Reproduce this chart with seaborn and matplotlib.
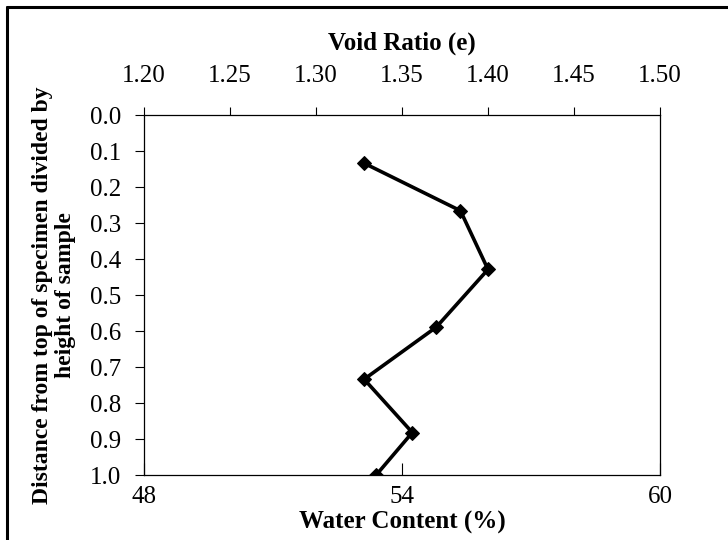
import matplotlib
matplotlib.use("Agg")
import matplotlib.pyplot as plt
from matplotlib.lines import Line2D
import seaborn as sns
import pandas as pd

# Data
void_ratio = [1.328, 1.384, 1.400, 1.370, 1.328, 1.356, 1.335]
depth = [0.134, 0.266, 0.429, 0.589, 0.734, 0.882, 1.000]
top_ticks = [1.20, 1.25, 1.30, 1.35, 1.40, 1.45, 1.50]
y_ticks = [0.0, 0.1, 0.2, 0.3, 0.4, 0.5, 0.6, 0.7, 0.8, 0.9, 1.0]
bottom_ticks = [48, 54, 60]

sns.set_style("white")
plt.rcParams["font.family"] = ["Liberation Serif", "DejaVu Serif"]

df = pd.DataFrame({"void_ratio": void_ratio, "depth": depth})

fig = plt.figure(figsize=(7.28, 5.40), dpi=100)
ax = fig.add_axes([144 / 728, 1 - 475 / 540, (660 - 144) / 728, (475 - 115) / 540])

sns.lineplot(data=df, x="void_ratio", y="depth", sort=False, estimator=None,
             ax=ax, color="black", linewidth=2.6, marker="D", markersize=7,
             markeredgecolor="black", markerfacecolor="black")

ax.set_xlim(1.20, 1.50)
ax.set_ylim(1.0, 0.0)
ax.set_xticks(top_ticks)
ax.set_xticklabels([f"{t:.2f}" for t in top_ticks])
ax.set_yticks(y_ticks)
ax.set_yticklabels([f"{t:.1f}" for t in y_ticks])
ax.xaxis.set_ticks_position("top")
ax.xaxis.set_label_position("top")
ax.tick_params(axis="x", direction="out", length=6, width=0.8, pad=14,
               labelsize=18, colors="black")
ax.tick_params(axis="y", direction="out", length=6.5, width=0.8, pad=10,
               labelsize=18, colors="black", left=True)
ax.set_xlabel("Void Ratio (e)", fontsize=18, fontweight="bold", labelpad=11,
              color="black")
ax.set_ylabel("Distance from top of specimen divided by\nheight of sample",
              fontsize=17, fontweight="bold", labelpad=10, linespacing=1.15,
              color="black")

for s in ax.spines.values():
    s.set_visible(True)
    s.set_color("black")
    s.set_linewidth(0.9)

# Secondary bottom axis: water content
def e_to_w(e):
    return 48 + (e - 1.20) / 0.30 * 12

def w_to_e(w):
    return 1.20 + (w - 48) / 12 * 0.30

sec = ax.secondary_xaxis("bottom", functions=(e_to_w, w_to_e))
sec.set_xticks(bottom_ticks)
sec.set_xticklabels([str(t) for t in bottom_ticks])
sec.tick_params(direction="in", length=9, width=0.8, pad=8, labelsize=18,
                colors="black")
sec.spines["bottom"].set_visible(False)
sec.set_xlabel("Water Content (%)", fontsize=18, fontweight="bold", labelpad=2,
               color="black")

# Figure border (top and left)
fig.add_artist(Line2D([7 / 728, 1.0], [1 - 7 / 540, 1 - 7 / 540],
                      transform=fig.transFigure, color="black", linewidth=2.2))
fig.add_artist(Line2D([7 / 728, 7 / 728], [0.0, 1 - 7 / 540],
                      transform=fig.transFigure, color="black", linewidth=2.2))

fig.savefig("out.png", dpi=100, facecolor="white")
